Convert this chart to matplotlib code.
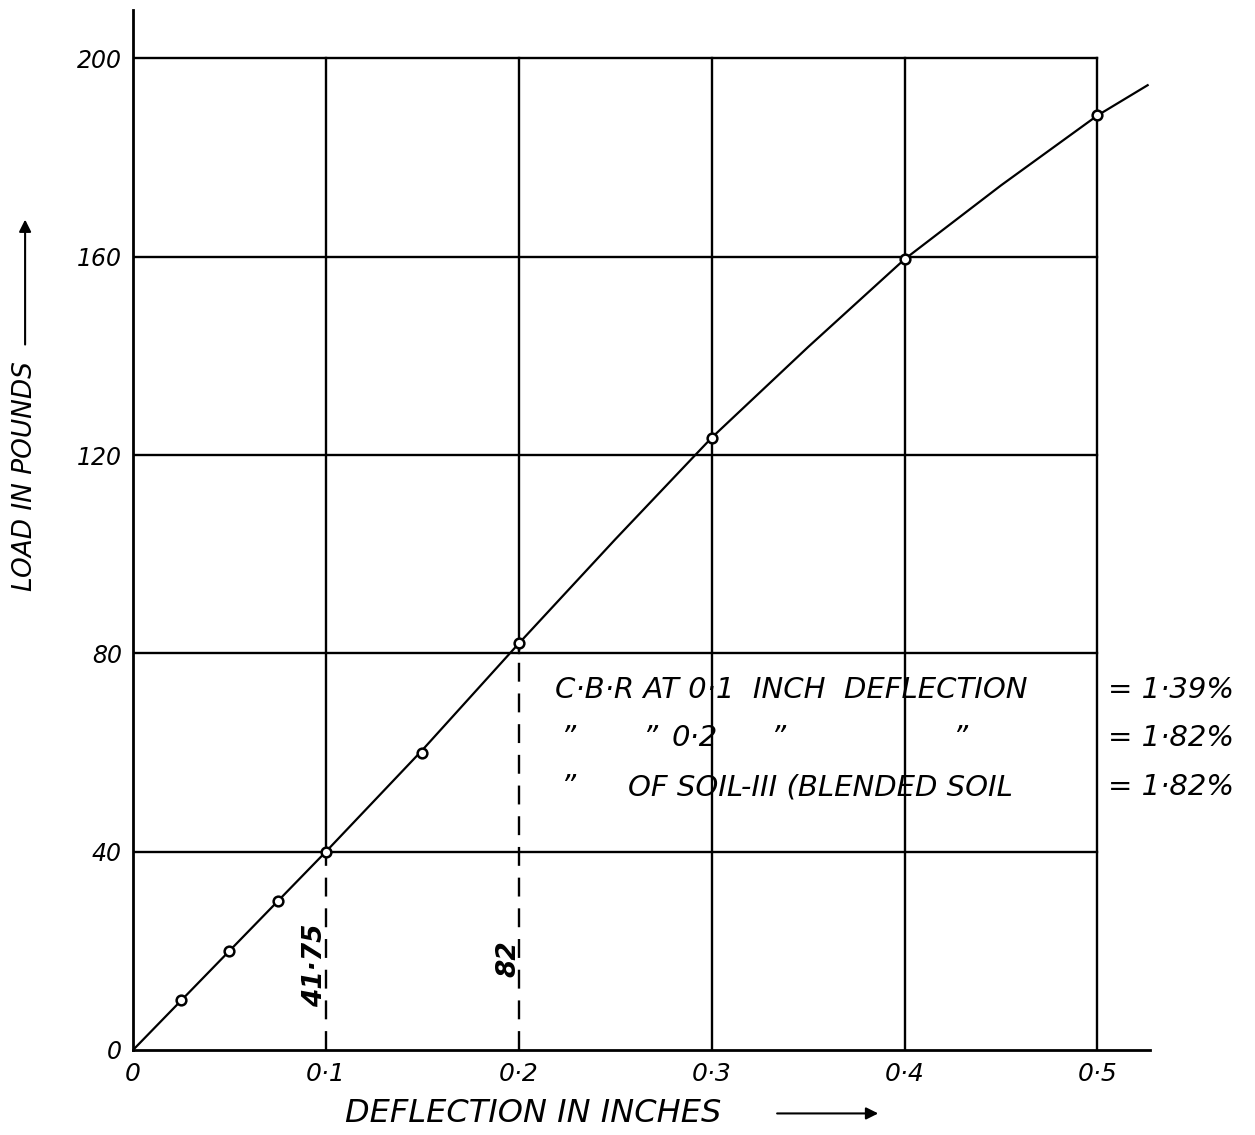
import matplotlib
matplotlib.use("Agg")
import matplotlib.pyplot as plt
from matplotlib.patches import FancyArrowPatch

# ---- data ----
deflection = [0.025, 0.05, 0.075, 0.1, 0.15, 0.2, 0.3, 0.4, 0.5]
load = [10, 20, 30, 40, 60, 82, 123.5, 159.5, 188.5]
# smooth curve (incl. origin and run-out beyond 0.5)
curve_x = [0.0, 0.05, 0.1, 0.15, 0.2, 0.25, 0.3, 0.35, 0.4, 0.45, 0.5, 0.526]
curve_y = [0.0, 20, 40, 60.5, 82, 103, 123.5, 141.8, 159.5, 174.4, 188.5, 194.6]
x_ticks = [0.0, 0.1, 0.2, 0.3, 0.4, 0.5]
x_tick_labels = ["0", "0·1", "0·2", "0·3", "0·4", "0·5"]
y_ticks = [0, 40, 80, 120, 160, 200]
y_tick_labels = ["0", "40", "80", "120", "160", "200"]
cbr_x = [0.1, 0.2]
cbr_y = [40, 82]
cbr_labels = ["41·75", "82"]

plt.rcParams['font.family'] = ['DejaVu Sans']
plt.rcParams['font.style'] = 'italic'

fig = plt.figure(figsize=(12.55, 11.35), dpi=100)
ax = fig.add_axes([0.106, 0.0749, 0.810, 0.916])
ax.set_xlim(0, 0.527)
ax.set_ylim(0, 209.7)

for s in ['top', 'right']:
    ax.spines[s].set_visible(False)
for s in ['left', 'bottom']:
    ax.spines[s].set_linewidth(2.0)

ax.set_xticks(x_ticks)
ax.set_xticklabels(x_tick_labels)
ax.set_yticks(y_ticks)
ax.set_yticklabels(y_tick_labels)
ax.tick_params(length=0, labelsize=17, pad=8)
ax.tick_params(axis='x', labelsize=18, pad=9)

gkw = dict(color='black', lw=1.7)
# horizontal grid lines
for yv in y_ticks[1:]:
    ax.plot([0, x_ticks[-1]], [yv, yv], **gkw)
# vertical grid lines
for xv in x_ticks[1:]:
    ybottom = 0
    for cx, cy in zip(cbr_x, cbr_y):
        if abs(cx - xv) < 1e-9:
            ybottom = y_ticks[1] * round(cy / y_ticks[1])
            ax.plot([xv, xv], [0, cy], color='black', lw=1.7, ls=(0, (8, 5)))
    ax.plot([xv, xv], [ybottom, y_ticks[-1]], **gkw)

# curve and points
ax.plot(curve_x, curve_y, color='black', lw=1.6)
ax.plot(deflection, load, 'o', ms=7, mfc='white', mec='black', mew=1.8)

# values on dashed lines
ax.text(cbr_x[0] - 0.0055, 17, cbr_labels[0], rotation=90, ha='center', va='center',
        fontsize=19, fontweight='bold')
ax.text(cbr_x[1] - 0.0055, 18.5, cbr_labels[1], rotation=90, ha='center', va='center',
        fontsize=19, fontweight='bold')


def px2x(px):
    return (px - 133) / 1930.0


def py2y(py):
    return (1050 - py) / 4.96


# annotation block
fs = 21
right = px2x(1235)
y1, y2, y3 = py2y(690), py2y(738), py2y(787)
ax.text(px2x(555), y1, "C·B·R AT 0·1  INCH  DEFLECTION", fontsize=fs, va='center')
ax.text(right, y1, "= 1·39%", fontsize=fs, va='center', ha='right')
for px, w in [(560, "”"), (642, "”"), (672, "0·2"), (770, "”"), (952, "”")]:
    ax.text(px2x(px), y2, w, fontsize=fs, va='center')
ax.text(right, y2, "= 1·82%", fontsize=fs, va='center', ha='right')
ax.text(px2x(560), y3, "”", fontsize=fs, va='center')
ax.text(px2x(628), y3, "OF SOIL-III (BLENDED SOIL", fontsize=fs, va='center')
ax.text(right, y3, "= 1·82%", fontsize=fs, va='center', ha='right')

# axis titles with arrows
fig.text(0.275, 0.019, "DEFLECTION IN INCHES", fontsize=23, va='center', ha='left')
fig.add_artist(FancyArrowPatch((0.617, 0.019), (0.702, 0.019),
               transform=fig.transFigure, arrowstyle='-|>', mutation_scale=18,
               color='black', lw=1.5))
fig.text(0.02, 0.581, "LOAD IN POUNDS", fontsize=19, rotation=90, va='center', ha='center')
fig.add_artist(FancyArrowPatch((0.02, 0.694), (0.02, 0.809),
               transform=fig.transFigure, arrowstyle='-|>', mutation_scale=18,
               color='black', lw=1.5))

fig.savefig("out.png", dpi=100)
